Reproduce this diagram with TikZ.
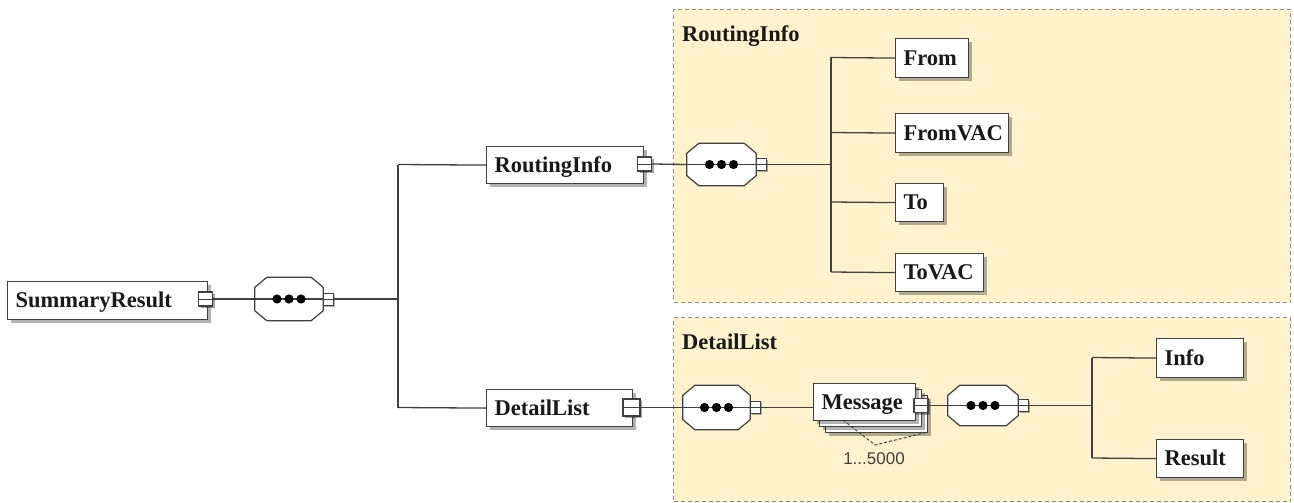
\documentclass[tikz,border=0pt]{standalone}
\usepackage{fontspec}
\setmainfont{Liberation Serif}
\newfontfamily\lsans{Liberation Sans}
\usetikzlibrary{shadows}
\definecolor{linec}{HTML}{404040}
\definecolor{panelfill}{HTML}{FFF2CC}
\definecolor{panelline}{HTML}{8C8C8C}
\newcommand{\elfont}{\bfseries\fontsize{22.5}{26}\selectfont}
\newcommand{\elbox}[6]{%
  \pgfmathsetmacro\myBW{#4-#2}\pgfmathsetmacro\myBH{#5-#3}\pgfmathsetmacro\myTW{#4-#2-16}%
  \node[elem, minimum width=\myBW pt, minimum height=\myBH pt, text width=\myTW pt] (#1) at (#2,#3) {#6};}
\newcommand{\seqgrp}[5]{%
  \node[inner sep=0pt, minimum width=#4 pt, minimum height=#5 pt] (#1) at (#2,#3) {};
  \draw[oct] ([xshift=12pt]#1.north west) -- ([xshift=-12pt]#1.north east) -- ([yshift=-10pt]#1.north east)
    -- ([yshift=10pt]#1.south east) -- ([xshift=-12pt]#1.south east) -- ([xshift=12pt]#1.south west)
    -- ([yshift=10pt]#1.south west) -- ([yshift=-10pt]#1.north west) -- cycle;
  \draw[ln] (#1.west) -- (#1.east);
  \foreach \dx in {-12,0,12} \fill[black] ([xshift=\dx pt]#1.center) circle[radius=4.6pt];
  \node[sqs] (#1s) at ([xshift=5pt]#1.east) {};
}
\begin{document}
\begin{tikzpicture}[x=1pt,y=-1pt,
  ln/.style={draw=linec, line width=1.3pt},
  elem/.style={draw=linec, line width=1.2pt, fill=white, inner xsep=8pt, inner ysep=0pt,
    align=left, anchor=north west, font=\elfont, text=black!90, text height=14.5pt, text depth=0pt,
    drop shadow={shadow xshift=3pt, shadow yshift=-3pt, fill=black, opacity=0.3}},
  oct/.style={draw=linec, line width=1.2pt, fill=white},
  sqs/.style={draw=linec, line width=1pt, fill=white, minimum width=10pt, minimum height=12pt, inner sep=0pt,
    drop shadow={shadow xshift=1.5pt, shadow yshift=-1.5pt, fill=black, opacity=0.3},
    path picture={\draw[linec, line width=1pt] (path picture bounding box.west) -- (path picture bounding box.east);}},
  sqe/.style={draw=linec, line width=1.2pt, fill=white, minimum size=14pt, inner sep=0pt,
    drop shadow={shadow xshift=2pt, shadow yshift=-2pt, fill=black, opacity=0.35},
    path picture={\draw[linec, line width=1pt] (path picture bounding box.west) -- (path picture bounding box.east);}},
  panel/.style={draw=panelline, dashed, dash pattern=on 4pt off 3pt, fill=panelfill, line width=1pt,
    anchor=north west, inner sep=0pt},
  ttl/.style={font=\elfont, text=black!90, anchor=base west, inner sep=0pt},
]
\useasboundingbox (0,0) rectangle (1294,503);
\fill[white] (0,0) rectangle (1294,503);

% panels
\node[panel, minimum width=617pt, minimum height=293pt] (p1) at (673,9) {};
\node[panel, minimum width=617pt, minimum height=184pt] (p2) at (673,317) {};
\node[ttl] (p1t) at (682,42) {RoutingInfo};
\node[ttl] (p2t) at (682,349) {DetailList};

% bus coordinates
\coordinate (b1) at (398,299);
\coordinate (b1t) at (398,164.5);
\coordinate (b1b) at (398,407.5);
\coordinate (b2m) at (831,164.5);
\coordinate (b2t) at (831,57.5);
\coordinate (b2a) at (831,132.5);
\coordinate (b2c) at (831,202);
\coordinate (b2b) at (831,272);
\coordinate (b3m) at (1092,405.5);
\coordinate (b3t) at (1092,357.5);
\coordinate (b3b) at (1092,458);

% buses
\draw[ln] (b1t) -- (b1b);
\draw[ln] (b2t) -- (b2b);
\draw[ln] (b3t) -- (b3b);

% elements
\elbox{sr}{7}{281}{207}{319}{SummaryResult}
\node[sqe] (srx) at (205.5,299) {};
\seqgrp{o1}{289}{299}{68}{43}

\elbox{ri}{486}{146}{643}{183}{RoutingInfo}
\node[sqe] (rix) at (644.5,164) {};
\seqgrp{o2}{721.5}{164.5}{69}{42}

\elbox{dl}{486}{389}{632}{426}{DetailList}
\node[sqe, minimum size=17pt] (dlx) at (631.5,407.5) {};
\seqgrp{o3}{716.5}{407.5}{67}{44}

\elbox{m2}{825}{395}{927}{432}{}
\elbox{m1}{819}{389}{921}{426}{}
\elbox{msg}{813}{383}{915}{420}{Message}
\node[sqe] (msgx) at (921,405.5) {};
\seqgrp{o4}{983}{405.5}{70}{40}

\elbox{from}{895}{38}{968}{77}{From}
\elbox{fvac}{895}{113}{1008}{152}{FromVAC}
\elbox{to}{895}{183}{943}{221}{To}
\elbox{tvac}{895}{253}{983}{291}{ToVAC}

\elbox{info}{1156}{338}{1243}{377}{Info}
\elbox{res}{1156}{439}{1243}{477}{Result}

\draw[ln] (srx.east) -- (o1.west);
\draw[ln] (o1s.east) -- (b1);
\draw[ln] (b1t) -- (ri.west);
\draw[ln] (b1b) -- (dl.west);
\draw[ln] (rix.east) -- (o2.west);
\draw[ln] (o2s.east) -- (b2m);
\draw[ln] (b2t) -- (from.west);
\draw[ln] (b2a) -- (fvac.west);
\draw[ln] (b2c) -- (to.west);
\draw[ln] (b2b) -- (tvac.west);
\draw[ln] (dlx.east) -- (o3.west);
\draw[ln] (o3s.east) -- (msg.west |- o3s.east);
\draw[ln] (msgx.east) -- (o4.west);
\draw[ln] (o4s.east) -- (b3m);
\draw[ln] (b3t) -- (info.west);
\draw[ln] (b3b) -- (res.west);

% multiplicity
\coordinate (d1) at (843,420);
\coordinate (d2) at (875,445);
\coordinate (d3) at (928,432);
\draw[linec, line width=1pt, dashed, dash pattern=on 3pt off 2pt] (d1) -- (d2) -- (d3);
\node[font=\lsans\fontsize{17}{20}\selectfont, text=linec] (card) at (874,459) {1...5000};
\end{tikzpicture}
\end{document}
